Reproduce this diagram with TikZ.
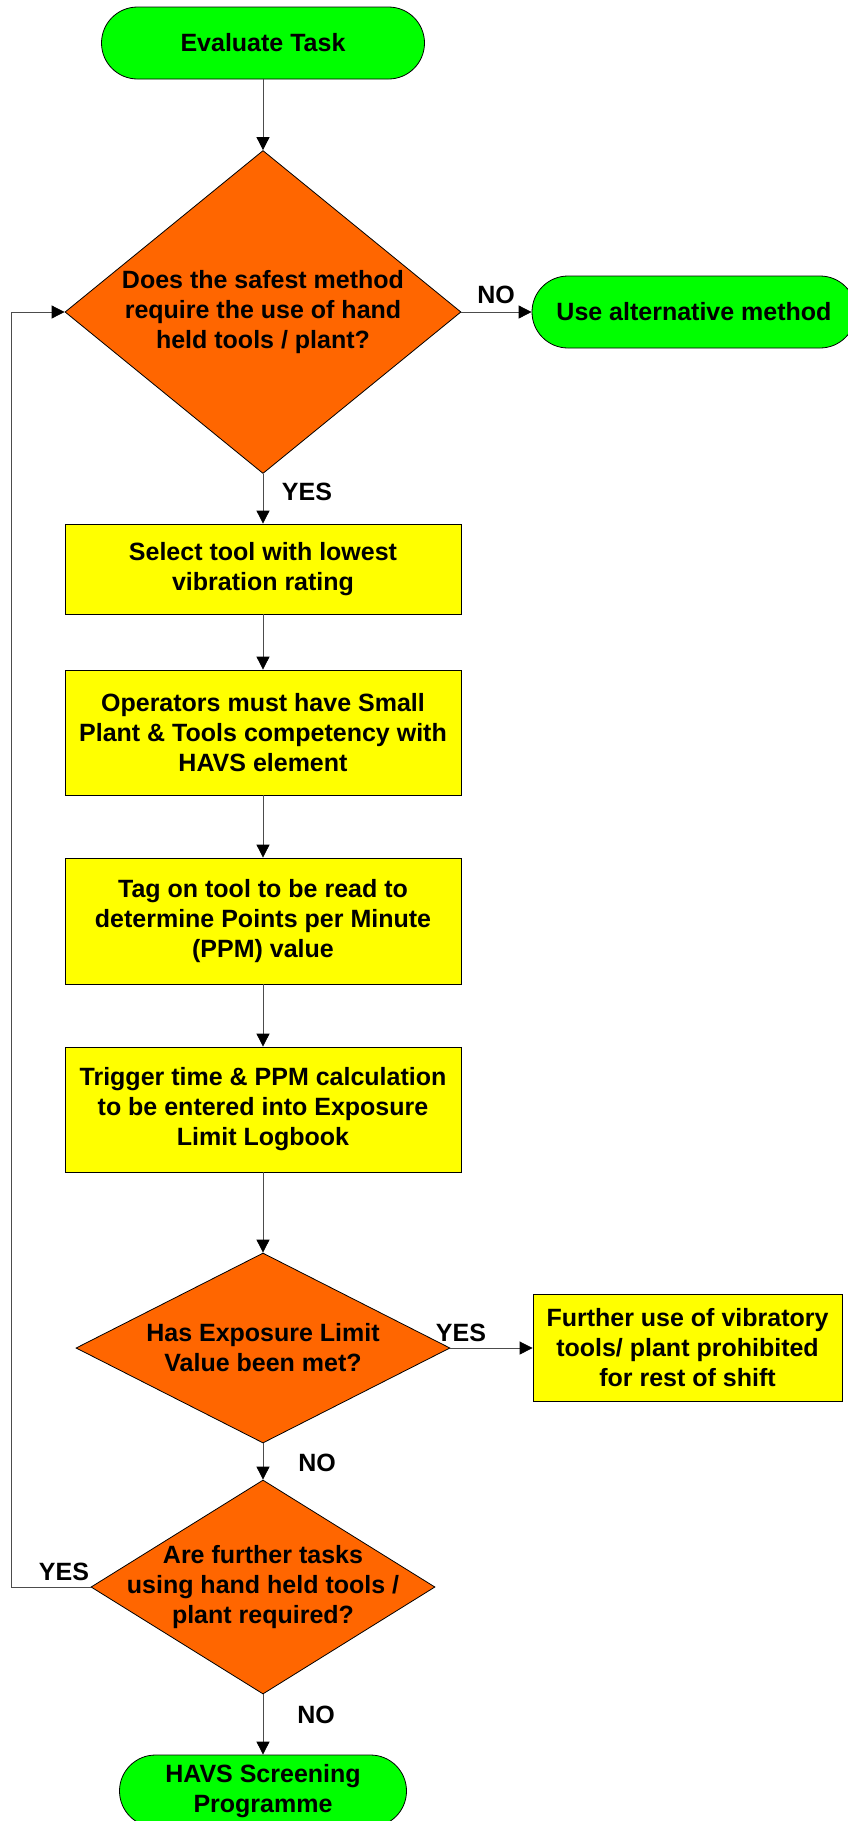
\documentclass[tikz,border=0pt]{standalone}
\usepackage{fontspec}
\setmainfont{Liberation Sans}
\usetikzlibrary{shapes.geometric,arrows.meta}
\definecolor{termgreen}{HTML}{00FF00}
\definecolor{decorange}{HTML}{FF6600}
\definecolor{procyellow}{HTML}{FFFF00}
\begin{document}
\begin{tikzpicture}[x=1pt,y=-1pt]
\tikzstyle{every node}=[font=\fontsize{25}{30}\selectfont\bfseries, align=center]
\tikzstyle{terminal}=[draw, line width=0.8pt, fill=termgreen, rounded corners=36pt, minimum height=72pt, inner sep=0pt]
\tikzstyle{process}=[draw, line width=0.8pt, fill=procyellow, inner sep=0pt]
\tikzstyle{decision}=[draw, line width=0.8pt, fill=decorange, diamond, inner sep=0pt]
\tikzstyle{flow}=[draw=black!70, line width=0.8pt, -{Triangle[length=13pt,width=13pt,color=black]}]
	\useasboundingbox (0,0) rectangle (847,1821);

	\node[terminal, minimum width=323pt] (evaluate) at (263,43) {Evaluate Task};

	\node[decision, minimum width=396pt, minimum height=323pt] (safest) at (263,312) {};
	\node (safestText) at (263,312) {Does the safest method\\require the use of hand\\held tools / plant?};
	\node[terminal, minimum width=324pt] (alternative) at (694,312) {Use alternative method};

	\node[process, minimum width=396pt, minimum height=90pt] (select) at (263,569) {Select tool with lowest\\vibration rating};
	\node[process, minimum width=396pt, minimum height=125pt] (operators) at (263,732.5) {Operators must have Small\\Plant \& Tools competency with\\HAVS element};
	\node[process, minimum width=396pt, minimum height=126pt] (tag) at (263,921) {Tag on tool to be read to\\determine Points per Minute\\(PPM) value};
	\node[process, minimum width=396pt, minimum height=125pt] (trigger) at (263,1109.5) {Trigger time \& PPM calculation\\to be entered into Exposure\\Limit Logbook};

	\node[decision, minimum width=374pt, minimum height=190pt] (exposure) at (263,1348) {};
	\node (exposureText) at (263,1348) {Has Exposure Limit\\Value been met?};
	\node[process, minimum width=309pt, minimum height=107pt] (prohibited) at (687.5,1348) {Further use of vibratory\\tools/ plant prohibited\\for rest of shift};

	\node[decision, minimum width=344pt, minimum height=214pt] (further) at (263,1587) {};
	\node (furtherText) at (263,1587) {Are further tasks\\using hand held tools /\\plant required?};

	\node[terminal, minimum width=287pt] (screening) at (263,1791) {HAVS Screening\\Programme};

	\node (noAlt) at (496,295) {NO};
	\node (yesSelect) at (307,492) {YES};
	\node (yesProhibited) at (461,1333) {YES};
	\node (noFurther) at (317,1463) {NO};
	\node (yesLoop) at (64,1572) {YES};
	\node (noScreening) at (316,1715) {NO};

	\coordinate (loopCorner) at (11,1587);

	\draw[flow] (evaluate.south) -- (safest.north);
	\draw[flow] (safest.east) -- (alternative.west);
	\draw[flow] (safest.south) -- (select.north);
	\draw[flow] (select.south) -- (operators.north);
	\draw[flow] (operators.south) -- (tag.north);
	\draw[flow] (tag.south) -- (trigger.north);
	\draw[flow] (trigger.south) -- (exposure.north);
	\draw[flow] (exposure.east) -- (prohibited.west);
	\draw[flow] (exposure.south) -- (further.north);
	\draw[flow] (further.south) -- (screening.north);
	\draw[flow] (further.west) -- (loopCorner) |- (safest.west);
\end{tikzpicture}
\end{document}
